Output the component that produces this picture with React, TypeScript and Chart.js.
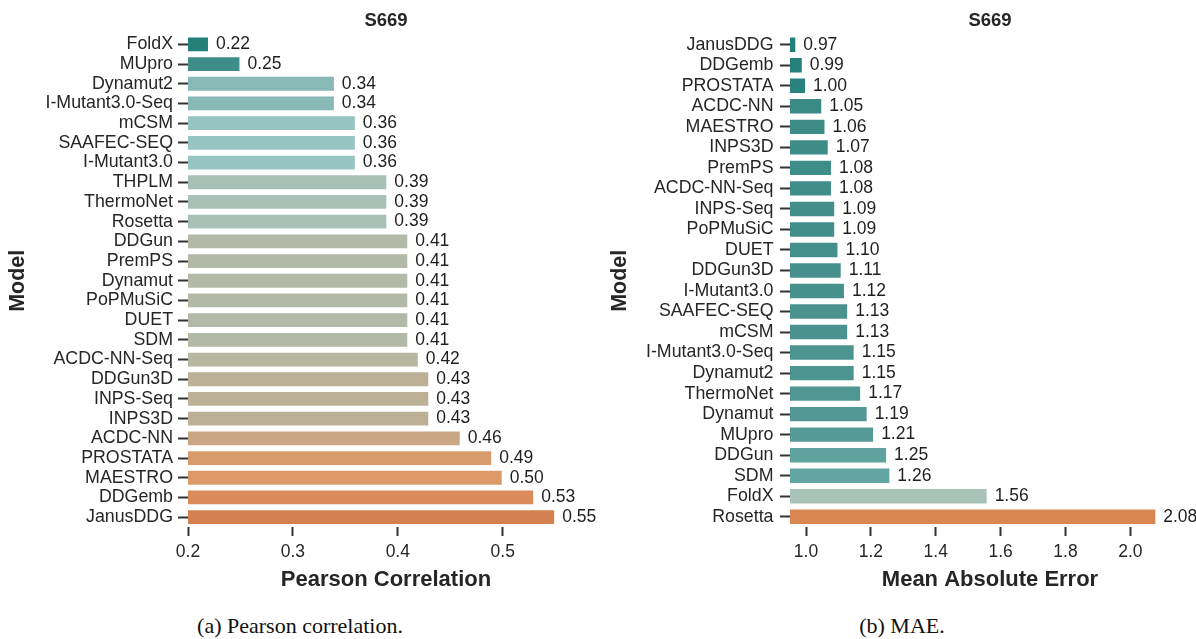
import React, { useEffect, useRef } from 'react';
import { Chart, registerables } from 'chart.js';

Chart.register(...registerables);

const chartTitle = 'S669';

const pearsonModels = [
  'FoldX', 'MUpro', 'Dynamut2', 'I-Mutant3.0-Seq', 'mCSM', 'SAAFEC-SEQ', 'I-Mutant3.0',
  'THPLM', 'ThermoNet', 'Rosetta', 'DDGun', 'PremPS', 'Dynamut', 'PoPMuSiC', 'DUET', 'SDM',
  'ACDC-NN-Seq', 'DDGun3D', 'INPS-Seq', 'INPS3D', 'ACDC-NN', 'PROSTATA', 'MAESTRO', 'DDGemb', 'JanusDDG',
];
const pearsonValues = [
  0.22, 0.25, 0.34, 0.34, 0.36, 0.36, 0.36,
  0.39, 0.39, 0.39, 0.41, 0.41, 0.41, 0.41, 0.41, 0.41,
  0.42, 0.43, 0.43, 0.43, 0.46, 0.49, 0.50, 0.53, 0.55,
];
const pearsonTicks = [0.2, 0.3, 0.4, 0.5];
const pearsonColors = [
  '#237f7a', '#3e8d89', '#87b9b6', '#87b9b6', '#97c4c1', '#97c4c1', '#97c4c1',
  '#a8c1b7', '#a8c1b7', '#a8c1b7', '#b2b9a6', '#b2b9a6', '#b2b9a6', '#b2b9a6', '#b2b9a6', '#b2b9a6',
  '#b7b6a0', '#bcb197', '#bcb197', '#bcb197', '#c9a785', '#d99b6c', '#dd9a68', '#db8a59', '#d4804f',
];

const maeModels = [
  'JanusDDG', 'DDGemb', 'PROSTATA', 'ACDC-NN', 'MAESTRO', 'INPS3D', 'PremPS', 'ACDC-NN-Seq',
  'INPS-Seq', 'PoPMuSiC', 'DUET', 'DDGun3D', 'I-Mutant3.0', 'SAAFEC-SEQ', 'mCSM', 'I-Mutant3.0-Seq',
  'Dynamut2', 'ThermoNet', 'Dynamut', 'MUpro', 'DDGun', 'SDM', 'FoldX', 'Rosetta',
];
const maeValues = [
  0.97, 0.99, 1.00, 1.05, 1.06, 1.07, 1.08, 1.08,
  1.09, 1.09, 1.10, 1.11, 1.12, 1.13, 1.13, 1.15,
  1.15, 1.17, 1.19, 1.21, 1.25, 1.26, 1.56, 2.08,
];
const maeTicks = [1.0, 1.2, 1.4, 1.6, 1.8, 2.0];
const maeColors = [
  '#237f7a', '#25807b', '#29827d', '#3a8a86', '#3c8b87', '#3d8c88', '#3f8d89', '#3f8d89',
  '#418e8a', '#418e8a', '#438f8b', '#45908c', '#47918d', '#49928e', '#49928e', '#4c9490',
  '#4c9490', '#509692', '#539894', '#569a96', '#5fa29e', '#62a4a0', '#a8c2b8', '#da8653',
];

const FONT = "'Liberation Sans', Arial, Helvetica, sans-serif";
const TEXT = '#262626';

const labelPlugin = {
  id: 'valueLabels',
  afterDatasetsDraw(chart: any, _args: any, opts: any) {
    const ctx = chart.ctx;
    const meta = chart.getDatasetMeta(0);
    const data = chart.data.datasets[0].data;
    ctx.save();
    ctx.font = `17.5px ${FONT}`;
    ctx.fillStyle = '#1f1f1f';
    ctx.textAlign = 'left';
    ctx.textBaseline = 'middle';
    meta.data.forEach((bar: any, i: number) => {
      ctx.fillText(Number(data[i]).toFixed(2), bar.x + 7, bar.y);
    });
    ctx.font = `bold 18.5px ${FONT}`;
    ctx.fillStyle = TEXT;
    ctx.textAlign = 'center';
    const ca = chart.chartArea;
    ctx.fillText(opts.title, (ca.left + ca.right) / 2, 21);
    ctx.restore();
  },
};

function makeConfig(p: {
  labels: string[]; values: number[]; colors: string[]; ticks: number[];
  min: number; max: number; xTitle: string; yWidth: number; padRight: number;
  yTitlePad: number; yTickPad: number;
}): any {
  return {
    type: 'bar',
    data: {
      labels: p.labels,
      datasets: [{
        data: p.values,
        backgroundColor: p.colors,
        borderColor: 'rgba(255,255,255,0.55)',
        borderWidth: 1,
        barPercentage: 0.8,
        categoryPercentage: 1,
      }],
    },
    options: {
      indexAxis: 'y',
      animation: false,
      responsive: false,
      maintainAspectRatio: false,
      layout: { padding: { top: 34.5, right: p.padRight, bottom: 0, left: 0 } },
      plugins: {
        legend: { display: false },
        tooltip: { enabled: false },
        title: { display: false },
        valueLabels: { title: chartTitle },
      },
      scales: {
        x: {
          type: 'linear',
          min: p.min,
          max: p.max,
          afterBuildTicks: (s: any) => { s.ticks = p.ticks.map((v) => ({ value: v })); },
          afterFit: (s: any) => { s.height = 70; },
          grid: { display: true, drawOnChartArea: false, drawTicks: true, tickLength: 9, tickWidth: 2, tickColor: '#333' },
          border: { display: false },
          ticks: {
            font: { family: FONT, size: 17.5 },
            color: TEXT,
            padding: 6,
            maxRotation: 0,
            autoSkip: false,
            callback: (v: any) => Number(v).toFixed(1),
          },
          title: {
            display: true,
            text: p.xTitle,
            color: TEXT,
            font: { family: FONT, size: 22, weight: 'bold' },
            padding: { top: 0, bottom: 4 },
          },
        },
        y: {
          type: 'category',
          afterFit: (s: any) => { s.width = p.yWidth; },
          grid: { display: true, offset: false, drawOnChartArea: false, drawTicks: true, tickLength: 10, tickWidth: 2, tickColor: '#333' },
          border: { display: false },
          ticks: {
            font: { family: FONT, size: 17.8 },
            color: TEXT,
            padding: p.yTickPad,
            autoSkip: false,
          },
          title: {
            display: true,
            text: 'Model',
            color: TEXT,
            font: { family: FONT, size: 21.5, weight: 'bold' },
            padding: { top: p.yTitlePad, bottom: 0 },
          },
        },
      },
    },
    plugins: [labelPlugin],
  };
}

export default function App() {
  const leftRef = useRef<HTMLCanvasElement | null>(null);
  const rightRef = useRef<HTMLCanvasElement | null>(null);

  useEffect(() => {
    const charts: Chart[] = [];
    if (leftRef.current) {
      charts.push(new Chart(leftRef.current, makeConfig({
        labels: pearsonModels, values: pearsonValues, colors: pearsonColors, ticks: pearsonTicks,
        min: 0.2, max: 0.5775, xTitle: 'Pearson Correlation', yWidth: 188, padRight: 14,
        yTitlePad: 5, yTickPad: 5,
      })));
    }
    if (rightRef.current) {
      charts.push(new Chart(rightRef.current, makeConfig({
        labels: maeModels, values: maeValues, colors: maeColors, ticks: maeTicks,
        min: 0.9506, max: 2.184, xTitle: 'Mean Absolute Error', yWidth: 192, padRight: 6,
        yTitlePad: 9.4, yTickPad: 6.5,
      })));
    }
    return () => charts.forEach((c) => c.destroy());
  }, []);

  const captionStyle: React.CSSProperties = {
    position: 'absolute',
    top: 614,
    textAlign: 'center',
    fontFamily: "'Liberation Serif', 'Times New Roman', serif",
    fontSize: 22,
    lineHeight: '24px',
    color: '#111',
  };

  return (
    <div style={{ position: 'absolute', left: 0, top: 0, width: 1196, height: 639, background: '#fff', overflow: 'hidden' }}>
      <canvas ref={leftRef} width={598} height={597} style={{ position: 'absolute', left: 0, top: 0, width: 598, height: 597 }} />
      <canvas ref={rightRef} width={598} height={597} style={{ position: 'absolute', left: 598, top: 0, width: 598, height: 597 }} />
      <div style={{ ...captionStyle, left: 0, width: 600 }}>(a) Pearson correlation.</div>
      <div style={{ ...captionStyle, left: 604, width: 596 }}>(b) MAE.</div>
    </div>
  );
}
